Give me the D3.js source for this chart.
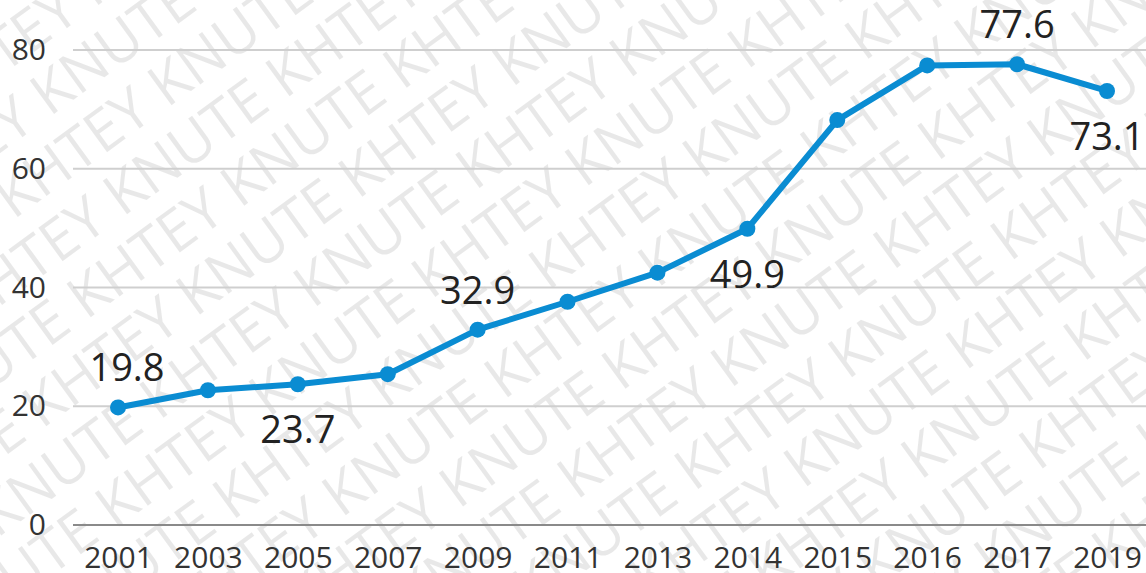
<!DOCTYPE html>
<html>
<head>
<meta charset="utf-8">
<script src="https://cdn.jsdelivr.net/npm/d3@7.9.0/dist/d3.min.js"></script>
<style>
  html, body { margin: 0; padding: 0; background: #fff; }
  svg { display: block; font-family: "Open Sans", sans-serif; }
</style>
</head>
<body>
<div id="chart"></div>
<script>
// data
const years = ['2001', '2003', '2005', '2007', '2009', '2011', '2013', '2014', '2015', '2016', '2017', '2019'];
const values = [19.8, 22.7, 23.7, 25.4, 32.9, 37.6, 42.5, 49.9, 68.2, 77.4, 77.6, 73.1];
const yTicks = [0, 20, 40, 60, 80];
// which points carry a value label, and on which side
const labelled = { '2001': 'above', '2005': 'below', '2009': 'above', '2014': 'below', '2017': 'above', '2019': 'below' };
const watermarkWords = ['KHTEY', 'KNUTE'];

const width = 1146;
const height = 573;

const svg = d3.select('#chart')
  .append('svg')
  .attr('width', width)
  .attr('height', height);

// watermark behind everything
const wm = svg.append('g')
  .attr('class', 'watermark')
  .attr('transform', 'rotate(-36)');
const rowText = d3.range(10).map((i) => watermarkWords[i % 2]).join(' ');
d3.range(-12, 20).forEach((r) => {
  wm.append('text')
    .attr('x', -1000 + (r % 2 ? 100 : 0))
    .attr('y', r * 62)
    .attr('font-size', 58)
    .attr('fill', '#000')
    .attr('fill-opacity', 0.09)
    .text(rowText + ' ' + rowText);
});

const x = d3.scalePoint()
  .domain(years)
  .range([118, 1107]);

const y = d3.scaleLinear()
  .domain([0, 80])
  .range([525, 50]);

// gridlines
const grid = svg.append('g').attr('class', 'grid');
grid.selectAll('line')
  .data(yTicks)
  .join('line')
  .attr('x1', 73)
  .attr('x2', width)
  .attr('y1', (d) => y(d))
  .attr('y2', (d) => y(d))
  .attr('stroke', (d) => d === 0 ? '#8a8a8a' : '#cfcfcf')
  .attr('stroke-width', 2);

// y axis labels
const yAxis = d3.axisLeft(y).tickValues(yTicks).tickSize(0).tickPadding(0);
svg.append('g')
  .attr('transform', 'translate(46,0)')
  .call(yAxis)
  .call((g) => g.select('.domain').remove())
  .selectAll('text')
  .attr('font-family', '"Open Sans", sans-serif')
  .attr('font-size', 30)
  .attr('fill', '#333');

// x axis labels
const xAxis = d3.axisBottom(x).tickSize(0).tickPadding(0);
svg.append('g')
  .attr('transform', 'translate(0,547)')
  .call(xAxis)
  .call((g) => g.select('.domain').remove())
  .selectAll('text')
  .attr('font-family', '"Open Sans", sans-serif')
  .attr('font-size', 30)
  .attr('fill', '#333');

// the line
const line = d3.line()
  .x((d, i) => x(years[i]))
  .y((d) => y(d));

svg.append('path')
  .datum(values)
  .attr('fill', 'none')
  .attr('stroke', '#0a8cd2')
  .attr('stroke-width', 6)
  .attr('stroke-linejoin', 'round')
  .attr('d', line);

svg.append('g')
  .selectAll('circle')
  .data(values)
  .join('circle')
  .attr('cx', (d, i) => x(years[i]))
  .attr('cy', (d) => y(d))
  .attr('r', 8)
  .attr('fill', '#0a8cd2');

// value labels
svg.append('g')
  .selectAll('text')
  .data(years.filter((yr) => labelled[yr]))
  .join('text')
  .attr('x', (yr) => x(yr) + (yr === '2001' ? 9 : 0))
  .attr('y', (yr) => {
    const v = values[years.indexOf(yr)];
    return labelled[yr] === 'above' ? y(v) - 26 : y(v) + 59;
  })
  .attr('text-anchor', 'middle')
  .attr('font-size', 38)
  .attr('fill', '#222')
  .text((yr) => values[years.indexOf(yr)]);
</script>
</body>
</html>
